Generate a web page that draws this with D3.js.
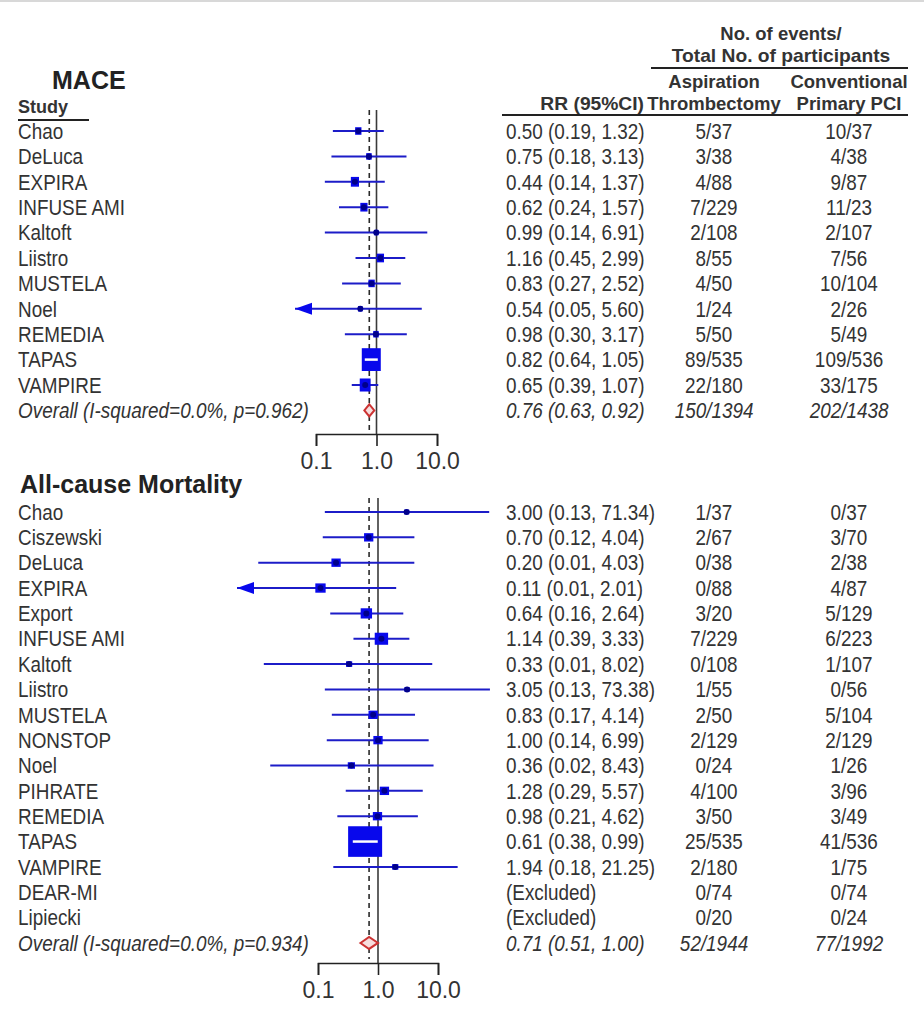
<!DOCTYPE html>
<html>
<head>
<meta charset="utf-8">
<title>Forest plot: aspiration thrombectomy vs conventional PCI</title>
<script src="https://cdn.jsdelivr.net/npm/d3@7/dist/d3.min.js"></script>
<style>
  body { margin: 0; background: #fff; }
  text { font-family: "Liberation Sans", Arial, sans-serif; fill: #333; }
</style>
</head>
<body>
<script>
// ---- data: MACE ----
var maceStudies = ["Chao", "DeLuca", "EXPIRA", "INFUSE AMI", "Kaltoft", "Liistro", "MUSTELA", "Noel", "REMEDIA", "TAPAS", "VAMPIRE"];
var maceRR = [0.50, 0.75, 0.44, 0.62, 0.99, 1.16, 0.83, 0.54, 0.98, 0.82, 0.65];
var maceLo = [0.19, 0.18, 0.14, 0.24, 0.14, 0.45, 0.27, 0.05, 0.30, 0.64, 0.39];
var maceHi = [1.32, 3.13, 1.37, 1.57, 6.91, 2.99, 2.52, 5.60, 3.17, 1.05, 1.07];
var maceAsp = ["5/37", "3/38", "4/88", "7/229", "2/108", "8/55", "4/50", "1/24", "5/50", "89/535", "22/180"];
var maceCon = ["10/37", "4/38", "9/87", "11/23", "2/107", "7/56", "10/104", "2/26", "5/49", "109/536", "33/175"];
var maceWeight = [4.8, 3.6, 8.0, 6.3, 2.5, 6.3, 4.8, 2.5, 3.6, 43.5, 14.2];
var maceOverall = [0.76, 0.63, 0.92];
var maceOverallLabel = "Overall (I-squared=0.0%, p=0.962)";
var maceOverallCounts = ["150/1394", "202/1438"];

// ---- data: all-cause mortality ----
var mortStudies = ["Chao", "Ciszewski", "DeLuca", "EXPIRA", "Export", "INFUSE AMI", "Kaltoft", "Liistro", "MUSTELA", "NONSTOP", "Noel", "PIHRATE", "REMEDIA", "TAPAS", "VAMPIRE", "DEAR-MI", "Lipiecki"];
var mortRR = [3.00, 0.70, 0.20, 0.11, 0.64, 1.14, 0.33, 3.05, 0.83, 1.00, 0.36, 1.28, 0.98, 0.61, 1.94, null, null];
var mortLo = [0.13, 0.12, 0.0101, 0.006, 0.16, 0.39, 0.0125, 0.13, 0.17, 0.14, 0.016, 0.29, 0.21, 0.38, 0.18, null, null];
var mortHi = [71.34, 4.04, 4.03, 2.01, 2.64, 3.33, 8.02, 73.38, 4.14, 6.99, 8.43, 5.57, 4.62, 0.99, 21.25, null, null];
var mortAsp = ["1/37", "2/67", "0/38", "0/88", "3/20", "7/229", "0/108", "1/55", "2/50", "2/129", "0/24", "4/100", "3/50", "25/535", "2/180", "0/74", "0/20"];
var mortCon = ["0/37", "3/70", "2/38", "4/87", "5/129", "6/223", "1/107", "0/56", "5/104", "2/129", "1/26", "3/96", "3/49", "41/536", "1/75", "0/74", "0/24"];
var mortWeight = [1.2, 3.8, 3.8, 4.7, 5.7, 7.9, 1.7, 1.2, 3.8, 3.8, 2.3, 3.8, 3.8, 51, 1.7, null, null];
var mortOverall = [0.71, 0.51, 1.00];
var mortOverallLabel = "Overall (I-squared=0.0%, p=0.934)";
var mortOverallCounts = ["52/1944", "77/1992"];

var tickValues = [0.1, 1, 10];
var tickLabels = ["0.1", "1.0", "10.0"];

// ---- layout ----
var w = 924, h = 1009;
var sx = 0.9;          // text is drawn slightly condensed
var fs = 21;
var blue = "#1c1cc8", boxBlue = "#0808ec", navy = "#00008a";
var fmt = d3.format(".2f");

var svg = d3.select("body").append("svg")
  .attr("width", w)
  .attr("height", h);

svg.append("line")
  .attr("x1", 0).attr("x2", w).attr("y1", 1).attr("y2", 1)
  .attr("stroke", "#d8d8d8").attr("stroke-width", 2);

function txt(g, x, y, s, anchor, weight, style, size, scx, scy) {
  return g.append("text")
    .attr("transform", "translate(" + x + "," + y + ") scale(" + (scx || sx) + "," + (scy || 1.05) + ")")
    .attr("dy", "0.35em")
    .attr("text-anchor", anchor || "start")
    .style("font-weight", weight || "normal")
    .style("font-style", style || "normal")
    .style("font-size", (size || fs) + "px")
    .text(s);
}

// column headers
var hd = svg.append("g");
txt(hd, 781, 34, "No. of events/", "middle", "bold", null, 18.5, 1, 1);
txt(hd, 781, 56, "Total No. of participants", "middle", "bold", null, 18.5, 1.04, 1);
hd.append("line").attr("x1", 651).attr("x2", 908).attr("y1", 68).attr("y2", 68)
  .attr("stroke", "#222").attr("stroke-width", 2);
txt(hd, 714, 82, "Aspiration", "middle", "bold", null, 18.5, 1, 1);
txt(hd, 849, 82, "Conventional", "middle", "bold", null, 18.5, 1, 1);
txt(hd, 644, 104, "RR (95%CI)", "end", "bold", null, 18.5, 1.04, 1);
txt(hd, 714, 104, "Thrombectomy", "middle", "bold", null, 18.5, 1, 1);
txt(hd, 849, 104, "Primary PCI", "middle", "bold", null, 18.5, 1, 1);
hd.append("line").attr("x1", 502).attr("x2", 908).attr("y1", 115).attr("y2", 115)
  .attr("stroke", "#222").attr("stroke-width", 2);

txt(hd, 18, 106, "Study", "start", "bold", null, 19, 0.95, 1);
hd.append("line").attr("x1", 18).attr("x2", 89).attr("y1", 120).attr("y2", 120)
  .attr("stroke", "#222").attr("stroke-width", 2);

function drawPanel(p) {
  var g = svg.append("g");
  var n = p.studies.length;
  var x = d3.scaleLog().domain([0.1, 10]).range(p.xRange);
  var y = function(i) { return p.y0 + i * p.step; };
  var size = d3.scaleSqrt().domain([0, d3.max(p.weight)]).range([0, p.maxSide]);

  g.append("text")
    .attr("x", p.titleX).attr("y", p.titleY)
    .style("font-weight", "bold").style("font-size", "25px")
    .style("fill", "#222")
    .text(p.title);

  // reference lines
  g.append("line")
    .attr("x1", x(1)).attr("x2", x(1)).attr("y1", p.top).attr("y2", p.axisY)
    .attr("stroke", "#3a3a3a").attr("stroke-width", 1.6);
  g.append("line")
    .attr("x1", x(p.overall[0])).attr("x2", x(p.overall[0]))
    .attr("y1", p.top).attr("y2", p.axisY - 4)
    .attr("stroke", "#2a2a2a").attr("stroke-width", 1.6)
    .attr("stroke-dasharray", "5,4");

  // study rows
  for (var i = 0; i < n; i++) {
    var yy = y(i);
    txt(g, 18, yy, p.studies[i]);
    txt(g, 714, yy, p.asp[i], "middle");
    txt(g, 849, yy, p.con[i], "middle");
    if (p.rr[i] == null) {
      txt(g, 506, yy, "(Excluded)");
      continue;
    }
    txt(g, 506, yy, fmt(p.rr[i]) + " (" + fmt(p.lo[i]) + ", " + fmt(p.hi[i]) + ")");

    var clipped = p.lo[i] < p.clip;
    var xl = clipped ? x(p.clip) - 21 : x(p.lo[i]);
    var xh = x(p.hi[i]);
    g.append("line")
      .attr("x1", xl).attr("x2", xh).attr("y1", yy).attr("y2", yy)
      .attr("stroke", blue).attr("stroke-width", 2);
    if (clipped) {
      var b = x(p.clip) - 4;
      g.append("path")
        .attr("d", "M" + xl + "," + yy + "L" + b + "," + (yy - 6) + "L" + b + "," + (yy + 6) + "Z")
        .attr("fill", boxBlue);
    }
    var s = size(p.weight[i]), sh = s * p.aspect;
    var cx = x(p.rr[i]);
    g.append("rect")
      .attr("x", cx - s / 2).attr("y", yy - sh / 2)
      .attr("width", s).attr("height", sh)
      .attr("fill", boxBlue);
    if (x(p.lo[i]) > cx - s / 2 && xh < cx + s / 2) {
      g.append("line")
        .attr("x1", x(p.lo[i])).attr("x2", xh).attr("y1", yy).attr("y2", yy)
        .attr("stroke", "#fff").attr("stroke-width", 2.5);
    } else {
      g.append("circle").attr("cx", cx).attr("cy", yy).attr("r", 3).attr("fill", navy);
    }
  }

  // overall row
  var yo = y(n);
  txt(g, 18, yo, p.overallLabel, "start", "normal", "italic");
  txt(g, 506, yo, fmt(p.overall[0]) + " (" + fmt(p.overall[1]) + ", " + fmt(p.overall[2]) + ")", "start", "normal", "italic");
  txt(g, 714, yo, p.overallCounts[0], "middle", "normal", "italic");
  txt(g, 849, yo, p.overallCounts[1], "middle", "normal", "italic");
  var xo = x(p.overall[0]), xlo = x(p.overall[1]), xhi = x(p.overall[2]);
  g.append("path")
    .attr("d", "M" + xlo + "," + yo + "L" + xo + "," + (yo - 6) + "L" + xhi + "," + yo + "L" + xo + "," + (yo + 6) + "Z")
    .attr("fill", "#f7dede").attr("stroke", "#cc3333").attr("stroke-width", 2);

  // axis
  var ax = g.append("g")
    .attr("transform", "translate(0," + p.axisY + ")")
    .call(d3.axisBottom(x).tickValues(tickValues)
      .tickFormat(function(d, k) { return tickLabels[k]; })
      .tickSize(12).tickSizeOuter(12).tickPadding(7));
  ax.selectAll("path, line").attr("stroke", "#222").attr("stroke-width", 1.6);
  ax.selectAll("text")
    .attr("fill", "#333")
    .style("font-size", "23px")
    .style("font-family", "'Liberation Sans', Arial, sans-serif");
}

drawPanel({
  title: "MACE", titleX: 52, titleY: 89,
  studies: maceStudies, rr: maceRR, lo: maceLo, hi: maceHi,
  asp: maceAsp, con: maceCon, weight: maceWeight,
  overall: maceOverall, overallLabel: maceOverallLabel, overallCounts: maceOverallCounts,
  xRange: [316, 437], y0: 131, step: 25.4, top: 110, axisY: 434,
  clip: 0.1, maxSide: 19, aspect: 1.2
});

drawPanel({
  title: "All-cause Mortality", titleX: 20, titleY: 493,
  studies: mortStudies, rr: mortRR, lo: mortLo, hi: mortHi,
  asp: mortAsp, con: mortCon, weight: mortWeight,
  overall: mortOverall, overallLabel: mortOverallLabel, overallCounts: mortOverallCounts,
  xRange: [318, 438], y0: 512, step: 25.35, top: 498, axisY: 963,
  clip: 0.01, maxSide: 34, aspect: 0.9
});
</script>
</body>
</html>
